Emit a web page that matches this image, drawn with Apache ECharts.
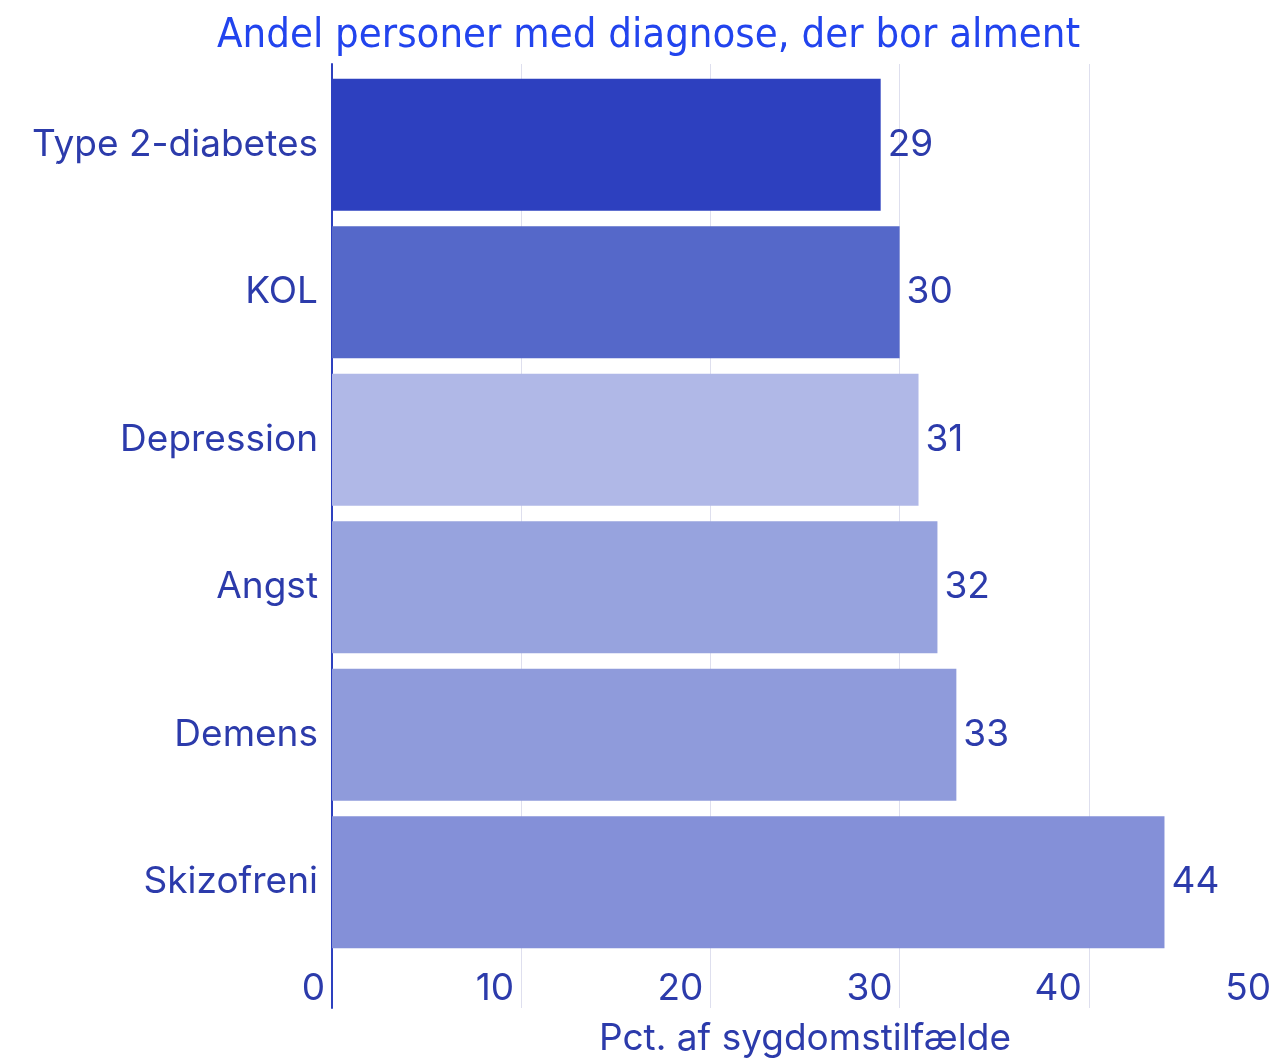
<!DOCTYPE html>
<html>
<head>
<meta charset="utf-8">
<script src="https://cdn.jsdelivr.net/npm/echarts@6/dist/echarts.min.js"></script>
<style>
  html, body { margin: 0; padding: 0; background: #fff; }
  #chart { width: 1273px; height: 1063px; }
</style>
</head>
<body>
<div id="chart"></div>
<script>
// data
const categories = ['Type 2-diabetes', 'KOL', 'Depression', 'Angst', 'Demens', 'Skizofreni'];
const values = [29, 30, 31, 32, 33, 44];
const barColors = ['#2d40bf', '#5568c9', '#b0b8e7', '#97a3de', '#8f9bdb', '#8490d8'];
const xTicks = [0, 10, 20, 30, 40, 50];

const textColor = '#2c3bab';
const labelFont = 'Inter';
const labelSize = 37;

const myChart = echarts.init(document.getElementById('chart'));
const option = {
  title: {
    text: 'Andel personer med diagnose, der bor alment',
    left: 212,
    top: 10,
    textStyle: {
      color: '#2244ee',
      fontFamily: 'DejaVu Sans Condensed',
      fontWeight: 'normal',
      fontSize: 41.5
    }
  },
  // grid 0: gridlines, tick labels and the left axis line
  // grid 1: the bars
  // the 50 gridline lies just past the right edge, so no bounds clamping
  grid: [
    { left: 332, top: 64, width: 946, height: 944, outerBoundsMode: 'none' },
    { left: 332, top: 71, width: 946, height: 885, outerBoundsMode: 'none' }
  ],
  xAxis: [
    {
      gridIndex: 0,
      type: 'value',
      min: xTicks[0],
      max: xTicks[xTicks.length - 1],
      interval: 10,
      name: 'Pct. af sygdomstilfælde',
      nameLocation: 'middle',
      nameGap: 12,
      nameTextStyle: {
        color: textColor,
        fontFamily: labelFont,
        fontSize: labelSize,
        verticalAlign: 'top'
      },
      axisLine: { show: false },
      axisTick: { show: false },
      axisLabel: {
        inside: true,
        margin: 1,
        align: 'right',
        padding: [0, 7, 0, 0],
        color: textColor,
        fontFamily: labelFont,
        fontSize: labelSize
      },
      splitLine: {
        show: true,
        lineStyle: { color: '#dedfee', width: 1 }
      }
    },
    {
      gridIndex: 1,
      type: 'value',
      min: 0,
      max: 50,
      show: false
    }
  ],
  yAxis: [
    {
      gridIndex: 0,
      type: 'value',
      min: 0,
      max: 1,
      axisLine: { show: true, lineStyle: { color: '#2d40bf', width: 2 } },
      axisTick: { show: false },
      axisLabel: { show: false },
      splitLine: { show: false }
    },
    {
      gridIndex: 1,
      type: 'category',
      inverse: true,
      data: categories,
      axisLine: { show: false },
      axisTick: { show: false },
      axisLabel: {
        margin: 14,
        color: textColor,
        fontFamily: labelFont,
        fontSize: labelSize
      }
    }
  ],
  series: [
    {
      type: 'bar',
      xAxisIndex: 1,
      yAxisIndex: 1,
      barCategoryGap: '10.5%',
      data: values.map((v, i) => ({ value: v, itemStyle: { color: barColors[i] } })),
      label: {
        show: true,
        position: 'right',
        distance: 7,
        color: textColor,
        fontFamily: labelFont,
        fontSize: labelSize
      },
      silent: true,
      animation: false
    }
  ]
};
myChart.setOption(option);
</script>
</body>
</html>
